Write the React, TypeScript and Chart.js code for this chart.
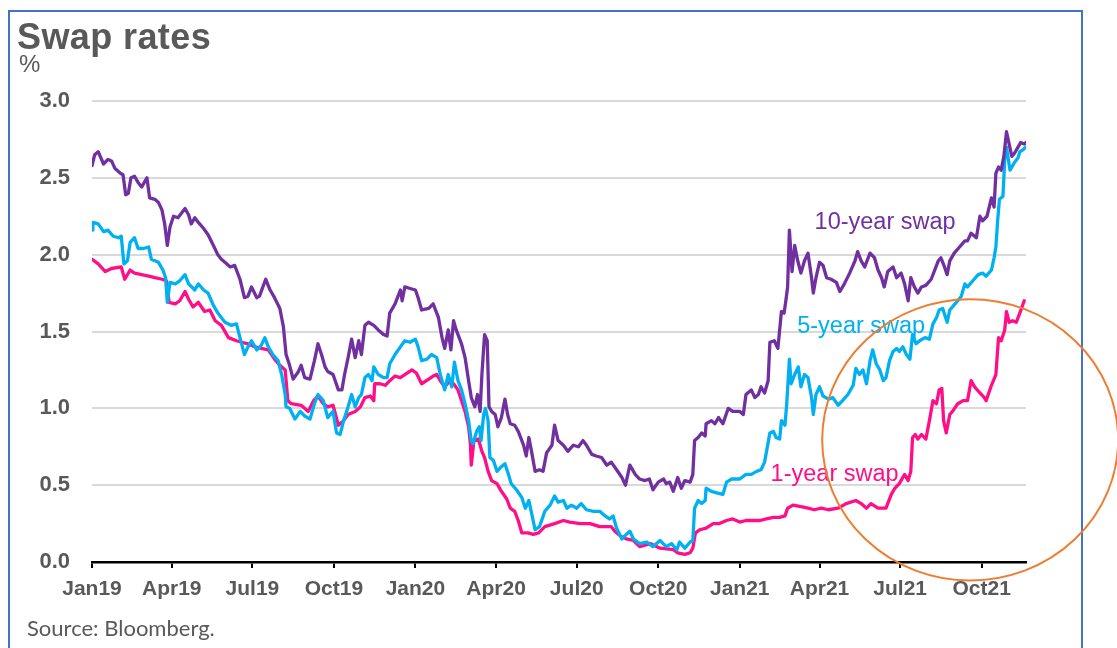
import React, { useEffect, useRef } from "react";
import { Chart, registerables } from "chart.js";

Chart.register(...registerables);

// ---- Data -------------------------------------------------------------
// x values are days since BASE_DATE, y values are swap rates in %
const BASE_DATE = "2019-01-01";
const X_END_DAY = 1054; // mid-November 2021

const tickDates = [
  "2019-01-01", "2019-04-01", "2019-07-01", "2019-10-01",
  "2020-01-01", "2020-04-01", "2020-07-01", "2020-10-01",
  "2021-01-01", "2021-04-01", "2021-07-01", "2021-10-01",
];
const tickLabels = [
  "Jan19", "Apr19", "Jul19", "Oct19",
  "Jan20", "Apr20", "Jul20", "Oct20",
  "Jan21", "Apr21", "Jul21", "Oct21",
];
const yTicks = [0, 0.5, 1, 1.5, 2, 2.5, 3];

const tenYear: [number, number][] = [
  [0, 2.58], [3, 2.65], [7, 2.67], [13, 2.59], [18, 2.62], [22, 2.61], [26, 2.56], [32, 2.53],
  [35, 2.52], [38, 2.39], [41, 2.40], [44, 2.50], [48, 2.51], [52, 2.47], [56, 2.44], [62, 2.50],
  [65, 2.37], [71, 2.36], [75, 2.34], [79, 2.29], [82, 2.20], [85, 2.06], [88, 2.18], [92, 2.25],
  [97, 2.24], [105, 2.30], [109, 2.26], [112, 2.20], [116, 2.24], [120, 2.21], [126, 2.17], [131, 2.13],
  [137, 2.06], [142, 2.00], [146, 1.97], [150, 1.95], [156, 1.92], [161, 1.93], [167, 1.84], [172, 1.72],
  [176, 1.73], [180, 1.79], [186, 1.72], [189, 1.73], [196, 1.84], [201, 1.77], [206, 1.72], [212, 1.65],
  [216, 1.53], [219, 1.35], [223, 1.28], [227, 1.19], [233, 1.24], [236, 1.28], [240, 1.20], [246, 1.19],
  [251, 1.31], [255, 1.42], [259, 1.35], [263, 1.27], [266, 1.24], [272, 1.22], [278, 1.12], [282, 1.12],
  [285, 1.22], [289, 1.33], [293, 1.45], [297, 1.33], [301, 1.44], [304, 1.35], [308, 1.54], [312, 1.56],
  [318, 1.54], [323, 1.51], [329, 1.48], [333, 1.47], [336, 1.62], [342, 1.68], [348, 1.77], [350, 1.70],
  [353, 1.79], [359, 1.78], [365, 1.77], [368, 1.72], [372, 1.64], [380, 1.65], [385, 1.68], [391, 1.59],
  [395, 1.46], [398, 1.39], [402, 1.51], [405, 1.38], [408, 1.57], [411, 1.51], [417, 1.42], [421, 1.33],
  [425, 1.18], [428, 1.07], [432, 1.01], [435, 1.09], [438, 0.98], [440, 1.22], [443, 1.48], [446, 1.44],
  [448, 1.01], [451, 0.98], [455, 0.96], [458, 0.88], [462, 0.94], [466, 1.06], [469, 0.96], [472, 0.90],
  [477, 0.89], [481, 0.85], [487, 0.76], [490, 0.69], [493, 0.81], [496, 0.72], [500, 0.59], [505, 0.60],
  [509, 0.59], [513, 0.71], [519, 0.76], [522, 0.89], [526, 0.79], [532, 0.76], [537, 0.72], [543, 0.76],
  [549, 0.75], [554, 0.79], [558, 0.76], [564, 0.70], [569, 0.69], [575, 0.68], [581, 0.63], [586, 0.65],
  [592, 0.60], [598, 0.55], [602, 0.50], [607, 0.63], [613, 0.57], [618, 0.54], [624, 0.53], [629, 0.54],
  [633, 0.47], [639, 0.52], [645, 0.54], [648, 0.51], [652, 0.52], [656, 0.46], [661, 0.55], [665, 0.48],
  [669, 0.53], [675, 0.52], [678, 0.57], [680, 0.79], [684, 0.81], [688, 0.84], [692, 0.82], [693, 0.90],
  [699, 0.92], [703, 0.90], [707, 0.94], [712, 0.90], [718, 1.00], [723, 0.98], [731, 0.98], [735, 0.96],
  [738, 1.09], [744, 1.12], [748, 1.07], [752, 1.09], [755, 1.14], [759, 1.10], [763, 1.18], [765, 1.43],
  [770, 1.44], [774, 1.39], [778, 1.63], [781, 1.62], [783, 1.70], [785, 1.79], [787, 2.16], [790, 1.89],
  [793, 2.06], [796, 1.97], [800, 1.88], [804, 1.96], [808, 2.01], [812, 1.85], [814, 1.75], [817, 1.85],
  [821, 1.95], [825, 1.93], [829, 1.85], [834, 1.84], [840, 1.82], [844, 1.76], [849, 1.81], [855, 1.88],
  [861, 1.96], [864, 2.02], [868, 1.96], [872, 1.92], [878, 2.01], [883, 1.98], [887, 1.90], [891, 1.85],
  [894, 1.79], [898, 1.89], [904, 1.92], [908, 1.85], [913, 1.88], [917, 1.81], [921, 1.70], [924, 1.85],
  [928, 1.79], [932, 1.75], [936, 1.79], [941, 1.80], [947, 1.84], [951, 1.90], [955, 1.96], [958, 1.98],
  [962, 1.92], [965, 1.87], [968, 1.96], [973, 2.01], [979, 2.05], [985, 2.09], [988, 2.09], [992, 2.14],
  [998, 2.11], [1002, 2.25], [1005, 2.22], [1010, 2.25], [1015, 2.37], [1018, 2.31], [1020, 2.53], [1023, 2.57],
  [1026, 2.55], [1029, 2.64], [1032, 2.80], [1035, 2.72], [1038, 2.64], [1041, 2.66], [1045, 2.70], [1048, 2.73],
  [1052, 2.72], [1054, 2.73],
];

const fiveYear: [number, number][] = [
  [0, 2.16], [1, 2.21], [7, 2.20], [13, 2.15], [18, 2.16], [24, 2.12], [30, 2.11], [33, 2.12],
  [36, 1.94], [40, 1.96], [43, 2.08], [48, 2.11], [52, 2.04], [58, 2.04], [64, 2.05], [67, 1.97],
  [75, 1.95], [80, 1.90], [83, 1.85], [85, 1.69], [88, 1.82], [94, 1.81], [99, 1.83], [105, 1.87],
  [109, 1.81], [116, 1.77], [120, 1.81], [126, 1.77], [131, 1.75], [137, 1.67], [142, 1.62], [150, 1.56],
  [157, 1.54], [163, 1.55], [167, 1.46], [172, 1.35], [176, 1.40], [180, 1.44], [186, 1.38], [191, 1.41],
  [195, 1.46], [199, 1.40], [204, 1.35], [210, 1.31], [214, 1.22], [218, 1.09], [219, 1.01], [223, 1.00],
  [229, 0.93], [235, 0.98], [240, 0.95], [246, 0.93], [251, 1.03], [255, 1.09], [261, 1.05], [266, 0.94],
  [272, 0.98], [276, 0.84], [280, 0.83], [284, 0.92], [289, 1.01], [293, 1.09], [297, 1.01], [301, 1.07],
  [304, 1.09], [308, 1.20], [312, 1.22], [316, 1.18], [318, 1.27], [323, 1.22], [329, 1.20], [333, 1.20],
  [336, 1.29], [342, 1.35], [348, 1.40], [353, 1.44], [359, 1.43], [365, 1.45], [368, 1.40], [372, 1.31],
  [378, 1.32], [383, 1.35], [389, 1.33], [393, 1.22], [398, 1.12], [402, 1.22], [406, 1.14], [409, 1.30],
  [413, 1.18], [417, 1.12], [421, 1.03], [425, 0.92], [428, 0.79], [430, 0.77], [434, 0.85], [437, 0.88],
  [439, 0.79], [442, 0.96], [444, 1.00], [447, 0.92], [449, 0.68], [453, 0.66], [457, 0.59], [462, 0.62],
  [466, 0.64], [470, 0.57], [473, 0.51], [479, 0.47], [485, 0.42], [489, 0.35], [493, 0.40], [496, 0.32],
  [500, 0.21], [505, 0.23], [511, 0.33], [517, 0.37], [522, 0.43], [526, 0.39], [532, 0.40], [536, 0.35],
  [541, 0.37], [547, 0.35], [552, 0.38], [558, 0.34], [566, 0.33], [573, 0.33], [579, 0.30], [584, 0.28],
  [588, 0.30], [592, 0.22], [598, 0.15], [603, 0.18], [607, 0.20], [611, 0.15], [618, 0.12], [626, 0.13],
  [633, 0.10], [641, 0.14], [648, 0.10], [654, 0.12], [660, 0.08], [663, 0.13], [669, 0.09], [675, 0.13],
  [678, 0.14], [680, 0.35], [684, 0.40], [688, 0.38], [692, 0.40], [693, 0.48], [699, 0.46], [705, 0.45],
  [712, 0.44], [716, 0.52], [722, 0.54], [731, 0.54], [738, 0.57], [744, 0.57], [750, 0.59], [755, 0.60],
  [759, 0.65], [765, 0.84], [769, 0.85], [772, 0.81], [776, 0.80], [778, 0.92], [782, 0.89], [784, 1.03],
  [787, 1.32], [789, 1.16], [793, 1.22], [797, 1.27], [800, 1.14], [804, 1.22], [808, 1.20], [812, 1.07],
  [814, 0.96], [817, 1.09], [821, 1.14], [825, 1.08], [831, 1.06], [836, 1.07], [842, 1.02], [847, 1.05],
  [853, 1.09], [859, 1.15], [862, 1.26], [866, 1.22], [870, 1.25], [874, 1.16], [878, 1.31], [881, 1.38],
  [885, 1.29], [889, 1.25], [893, 1.18], [896, 1.20], [900, 1.31], [904, 1.37], [908, 1.39], [911, 1.37],
  [915, 1.40], [919, 1.35], [923, 1.32], [926, 1.48], [930, 1.42], [934, 1.44], [940, 1.46], [945, 1.45],
  [949, 1.55], [953, 1.59], [956, 1.64], [960, 1.65], [965, 1.56], [968, 1.64], [971, 1.66], [977, 1.70],
  [981, 1.73], [985, 1.81], [988, 1.79], [994, 1.83], [1000, 1.87], [1005, 1.88], [1009, 1.86], [1015, 1.90],
  [1018, 1.98], [1020, 2.05], [1022, 2.22], [1024, 2.36], [1028, 2.38], [1030, 2.62], [1032, 2.70], [1033, 2.66],
  [1036, 2.55], [1041, 2.60], [1045, 2.63], [1047, 2.67], [1050, 2.68], [1054, 2.70],
];

const oneYear: [number, number][] = [
  [0, 1.97], [7, 1.94], [15, 1.89], [22, 1.91], [33, 1.92], [37, 1.84], [43, 1.90], [48, 1.88],
  [56, 1.87], [64, 1.86], [71, 1.85], [79, 1.84], [84, 1.83], [87, 1.69], [94, 1.68], [99, 1.70],
  [105, 1.76], [109, 1.71], [114, 1.66], [120, 1.69], [127, 1.63], [133, 1.64], [139, 1.57], [146, 1.54],
  [154, 1.46], [163, 1.44], [169, 1.43], [176, 1.42], [184, 1.40], [191, 1.39], [199, 1.38], [206, 1.32],
  [212, 1.28], [218, 1.25], [221, 1.05], [225, 1.03], [236, 1.02], [244, 0.98], [250, 1.05], [255, 1.08],
  [261, 1.03], [266, 1.01], [272, 1.02], [278, 0.89], [284, 0.92], [289, 0.96], [297, 0.98], [303, 1.01],
  [308, 1.07], [314, 1.08], [318, 1.05], [319, 1.16], [325, 1.16], [331, 1.15], [336, 1.18], [342, 1.21],
  [348, 1.20], [353, 1.22], [361, 1.25], [366, 1.23], [372, 1.16], [380, 1.19], [385, 1.21], [389, 1.22],
  [393, 1.18], [398, 1.14], [404, 1.18], [408, 1.16], [413, 1.12], [417, 1.05], [421, 0.98], [425, 0.88],
  [427, 0.77], [428, 0.63], [431, 0.79], [436, 0.80], [440, 0.72], [443, 0.68], [447, 0.59], [451, 0.53],
  [457, 0.51], [462, 0.46], [468, 0.41], [472, 0.35], [477, 0.33], [481, 0.27], [485, 0.19], [492, 0.19],
  [498, 0.18], [504, 0.19], [511, 0.23], [522, 0.25], [532, 0.27], [539, 0.26], [551, 0.25], [562, 0.25],
  [573, 0.23], [586, 0.23], [590, 0.20], [596, 0.17], [603, 0.15], [611, 0.14], [618, 0.10], [630, 0.12],
  [641, 0.09], [656, 0.08], [661, 0.06], [669, 0.05], [675, 0.06], [678, 0.09], [681, 0.19], [686, 0.21],
  [693, 0.22], [701, 0.25], [708, 0.25], [716, 0.27], [723, 0.28], [731, 0.26], [738, 0.27], [746, 0.27],
  [754, 0.27], [761, 0.28], [769, 0.29], [776, 0.29], [782, 0.30], [785, 0.35], [791, 0.37], [800, 0.36],
  [808, 0.35], [815, 0.34], [823, 0.35], [831, 0.34], [842, 0.35], [851, 0.38], [862, 0.40], [868, 0.38],
  [874, 0.35], [879, 0.38], [887, 0.35], [896, 0.35], [902, 0.44], [906, 0.48], [911, 0.51], [917, 0.57],
  [921, 0.53], [924, 0.59], [926, 0.81], [929, 0.83], [932, 0.80], [936, 0.83], [941, 0.80], [945, 0.92],
  [949, 1.05], [953, 1.03], [956, 1.12], [959, 1.13], [961, 0.92], [964, 0.84], [968, 0.96], [971, 0.98],
  [977, 1.03], [983, 1.05], [988, 1.05], [992, 1.18], [996, 1.14], [1002, 1.10], [1007, 1.07], [1009, 1.05],
  [1015, 1.15], [1020, 1.22], [1023, 1.46], [1026, 1.44], [1030, 1.51], [1032, 1.63], [1035, 1.56], [1039, 1.57],
  [1043, 1.56], [1047, 1.62], [1052, 1.70],
];

// ---- Styling / annotations ---------------------------------------------
const FONT = "'Liberation Sans', Arial, Helvetica, sans-serif";
const GREY = "#595959";
const PURPLE = "#7030A0";
const CYAN = "#00B0F0";
const PINK = "#FF0F87";
const ORANGE = "#ED7D31";

const seriesLabels = [
  { text: "10-year swap", day: 895, value: 2.21, color: PURPLE },
  { text: "5-year swap", day: 868, value: 1.53, color: CYAN },
  { text: "1-year swap", day: 838, value: 0.57, color: PINK },
];
// highlight ellipse, in data space: centre and half-extents
const highlight = { day: 991, value: 0.795, halfDays: 167, halfValue: 0.915 };

const dayOf = (d: string) => Math.round((Date.parse(d) - Date.parse(BASE_DATE)) / 86400000);
const tickDays = tickDates.map(dayOf);

const annotationPlugin = {
  id: "swapAnnotations",
  afterDatasetsDraw(chart: any) {
    const { ctx, scales } = chart;
    const xs = scales.x;
    const ys = scales.y;
    ctx.save();
    ctx.font = `23.5px ${FONT}`;
    ctx.textAlign = "center";
    ctx.textBaseline = "middle";
    for (const l of seriesLabels) {
      ctx.fillStyle = l.color;
      ctx.fillText(l.text, xs.getPixelForValue(l.day), ys.getPixelForValue(l.value));
    }
    const cx = xs.getPixelForValue(highlight.day);
    const cy = ys.getPixelForValue(highlight.value);
    const rx = Math.abs(xs.getPixelForValue(highlight.day + highlight.halfDays) - cx);
    const ry = Math.abs(ys.getPixelForValue(highlight.value + highlight.halfValue) - cy);
    ctx.beginPath();
    ctx.ellipse(cx, cy, rx, ry, 0, 0, Math.PI * 2);
    ctx.strokeStyle = ORANGE;
    ctx.lineWidth = 2;
    ctx.stroke();
    ctx.restore();
  },
};

const toPoints = (arr: [number, number][]) => arr.map(([x, y]) => ({ x, y }));

export default function App() {
  const canvasRef = useRef<HTMLCanvasElement | null>(null);

  useEffect(() => {
    if (!canvasRef.current) return;
    const chart = new Chart(canvasRef.current, {
      type: "line",
      data: {
        datasets: [
          { label: "10-year swap", data: toPoints(tenYear), borderColor: PURPLE, borderWidth: 3.3 },
          { label: "5-year swap", data: toPoints(fiveYear), borderColor: CYAN, borderWidth: 3.3 },
          { label: "1-year swap", data: toPoints(oneYear), borderColor: PINK, borderWidth: 3.3 },
        ],
      },
      options: {
        responsive: false,
        animation: false,
        devicePixelRatio: 1,
        layout: { padding: { top: 101, right: 91, bottom: 0, left: 0 } },
        elements: {
          point: { radius: 0 },
          line: { tension: 0, borderJoinStyle: "round", borderCapStyle: "round", fill: false },
        },
        plugins: {
          legend: { display: false },
          tooltip: { enabled: false },
          title: { display: false },
        },
        scales: {
          x: {
            type: "linear",
            min: 0,
            max: X_END_DAY,
            afterBuildTicks: (s: any) => {
              s.ticks = tickDays.map((v) => ({ value: v }));
            },
            afterFit: (s: any) => {
              s.height = 86;
            },
            ticks: {
              autoSkip: false,
              maxRotation: 0,
              padding: 9,
              color: GREY,
              font: { family: FONT, size: 21, weight: "bold" },
              callback: (v: any) => {
                const i = tickDays.indexOf(Number(v));
                return i >= 0 ? tickLabels[i] : "";
              },
            },
            grid: { drawOnChartArea: false, drawTicks: true, tickLength: 6, color: "#000", lineWidth: 2 },
            border: { display: true, color: "#000", width: 2.5 },
          },
          y: {
            type: "linear",
            min: 0,
            max: 3,
            afterBuildTicks: (s: any) => {
              s.ticks = yTicks.map((v) => ({ value: v }));
            },
            afterFit: (s: any) => {
              s.width = 92;
            },
            ticks: {
              padding: 22,
              color: GREY,
              font: { family: FONT, size: 22, weight: "bold" },
              callback: (v: any) => Number(v).toFixed(1),
            },
            grid: { color: "#D9D9D9", lineWidth: 2, drawTicks: false },
            border: { display: false },
          },
        },
      } as any,
      plugins: [annotationPlugin],
    });
    return () => chart.destroy();
  }, []);

  return (
    <div
      style={{
        position: "absolute",
        left: 0,
        top: 0,
        width: 1117,
        height: 648,
        overflow: "hidden",
        background: "#fff",
      }}
    >
      <div
        style={{
          position: "absolute",
          left: 8,
          top: 10,
          width: 1075,
          height: 700,
          boxSizing: "border-box",
          borderLeft: "2px solid #4472C4",
          borderTop: "2px solid #4472C4",
          borderRight: "2px solid #4472C4",
        }}
      />
      <canvas
        ref={canvasRef}
        width={1117}
        height={648}
        style={{ position: "absolute", left: 0, top: 0, width: 1117, height: 648 }}
      />
      <div
        style={{
          position: "absolute",
          left: 17,
          top: 19,
          font: `bold 36px ${FONT}`,
          lineHeight: "36px",
          letterSpacing: "0.4px",
          color: GREY,
          whiteSpace: "nowrap",
        }}
      >
        Swap rates
      </div>
      <div
        style={{
          position: "absolute",
          left: 19,
          top: 52,
          font: `24px ${FONT}`,
          lineHeight: "24px",
          color: GREY,
          whiteSpace: "nowrap",
        }}
      >
        %
      </div>
      <div
        style={{
          position: "absolute",
          left: 27,
          top: 617,
          font: `22px Lato, 'Open Sans', sans-serif`,
          lineHeight: "22px",
          color: GREY,
          whiteSpace: "nowrap",
        }}
      >
        Source: Bloomberg.
      </div>
    </div>
  );
}
